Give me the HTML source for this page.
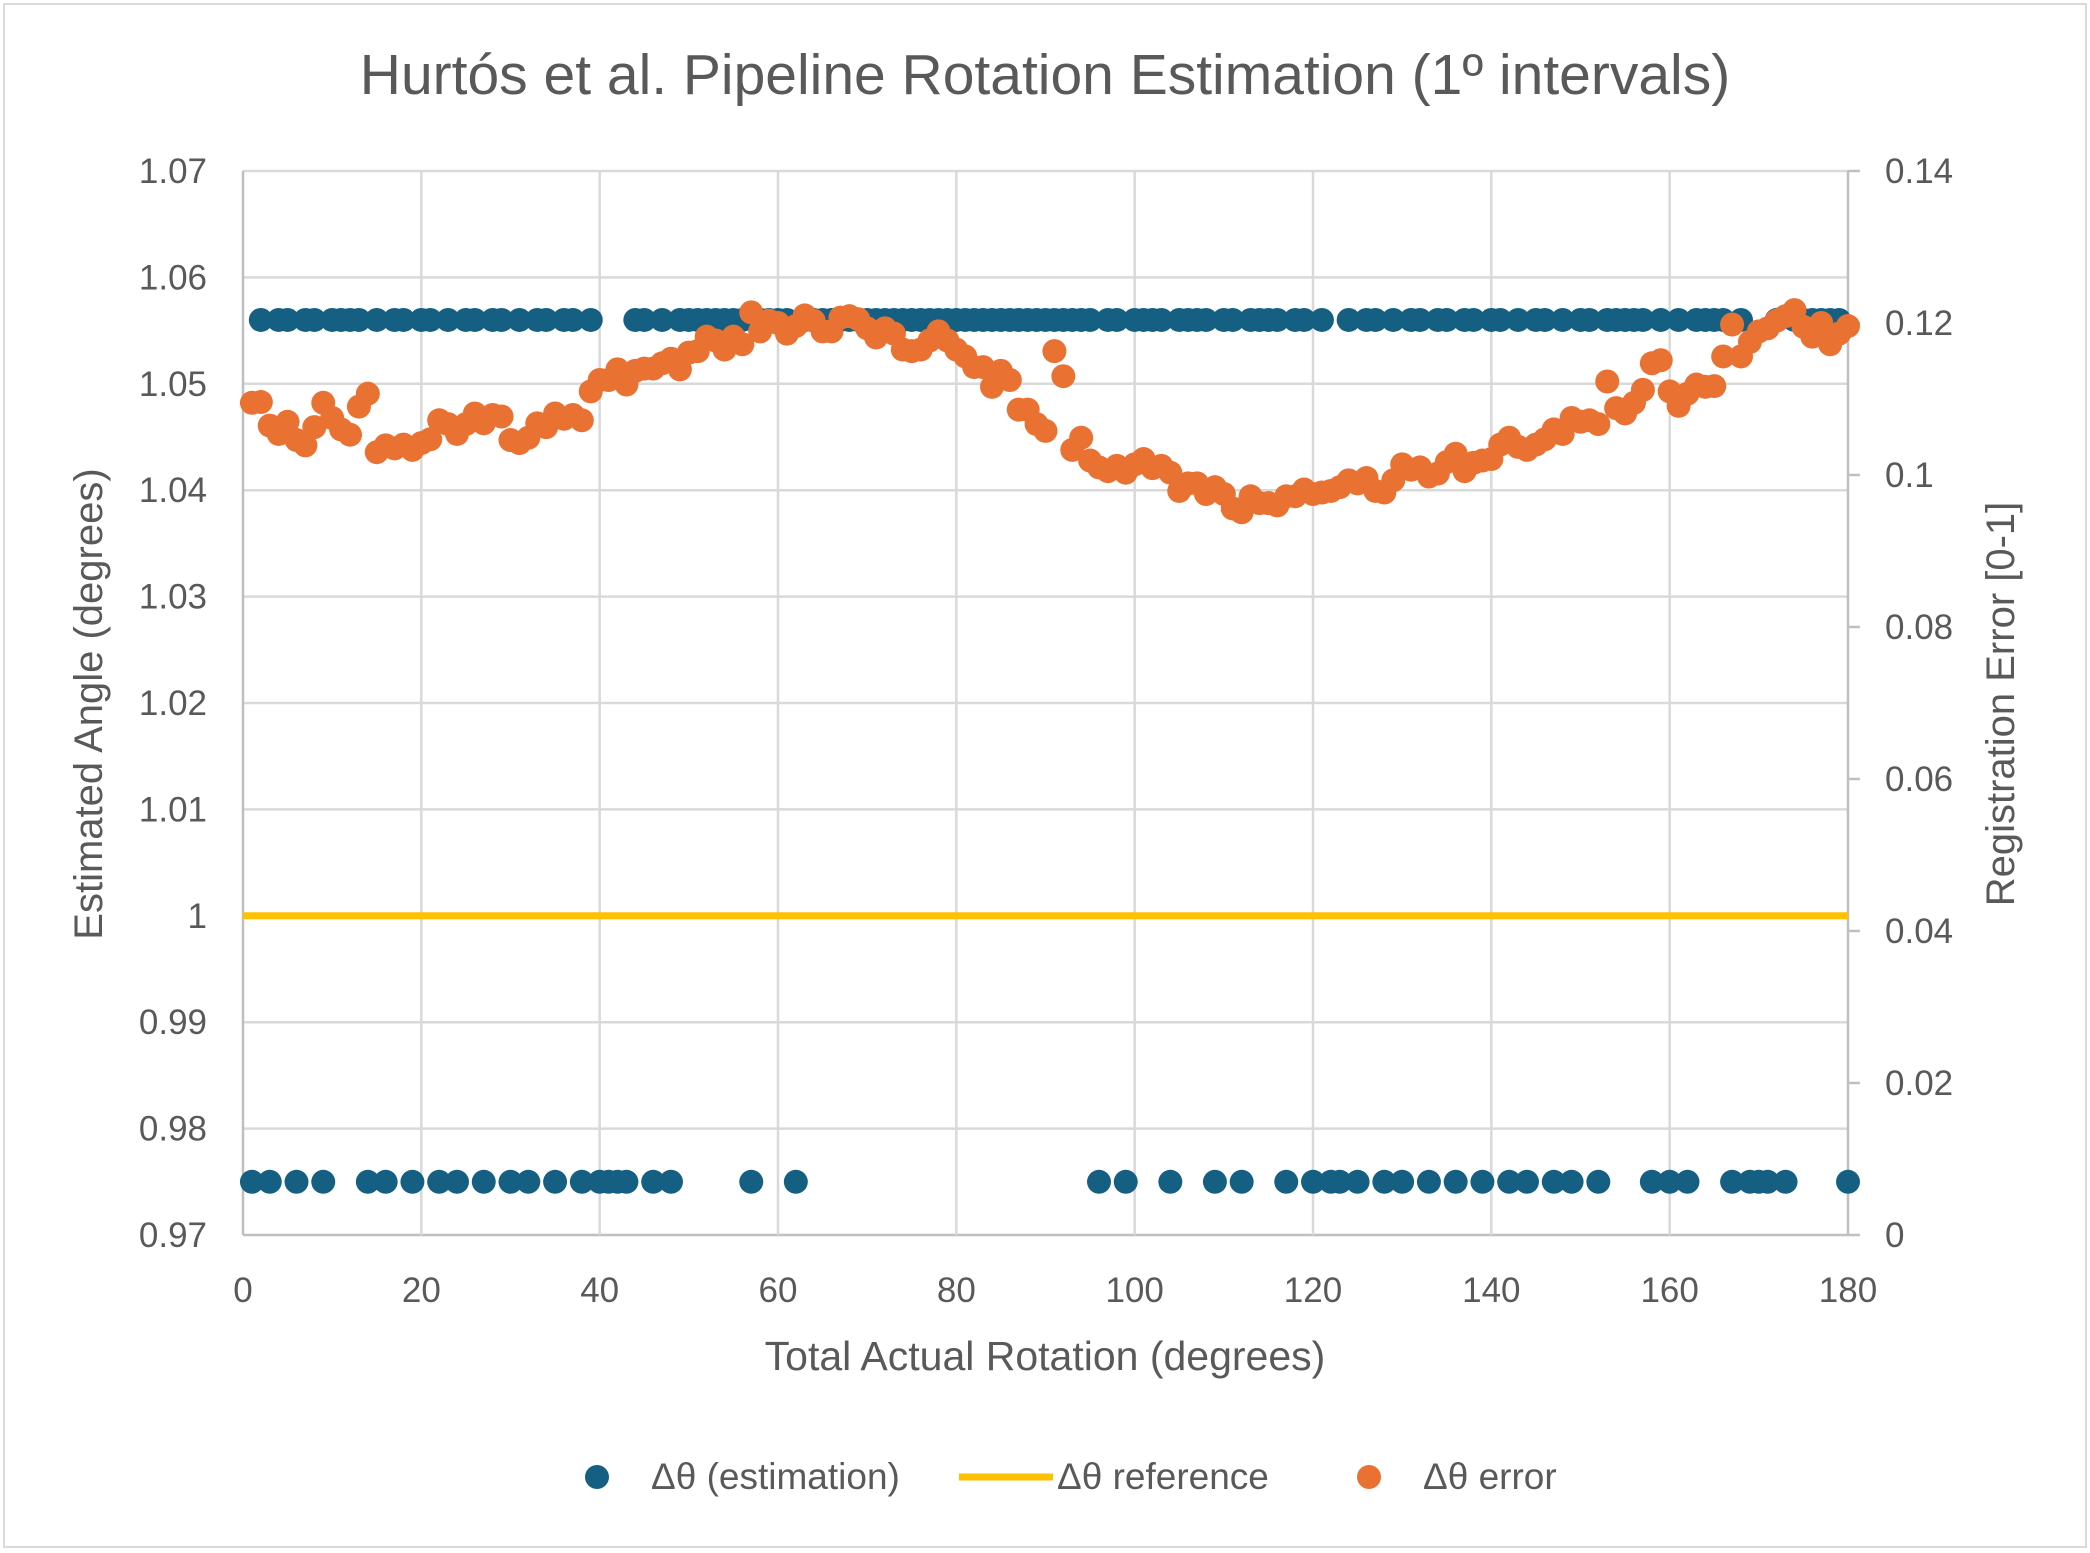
<!DOCTYPE html>
<html><head><meta charset="utf-8"><style>
html,body{margin:0;padding:0;background:#fff;}
svg{display:block;font-family:"Liberation Sans",sans-serif;}
</style></head><body>
<svg id="chart" width="2090" height="1553" viewBox="0 0 2090 1553" xmlns="http://www.w3.org/2000/svg">
<rect x="4" y="4" width="2082" height="1543" fill="#fff" stroke="#d9d9d9" stroke-width="2"/>
<text x="1045" y="94" text-anchor="middle" font-size="57" fill="#595959">Hurtós et al. Pipeline Rotation Estimation (1º intervals)</text>
<g id="grid"></g>
<g id="axes"></g>
<g id="marks"></g>
<text x="1045" y="1370" text-anchor="middle" font-size="41" fill="#595959">Total Actual Rotation (degrees)</text>
<text transform="translate(102,704) rotate(-90)" text-anchor="middle" font-size="40" fill="#595959">Estimated Angle (degrees)</text>
<text transform="translate(2014,704) rotate(-90)" text-anchor="middle" font-size="40" fill="#595959">Registration Error [0-1]</text>
<g>
<g><circle cx="597" cy="1477" r="12" fill="#156082"/><text x="651" y="1489" font-size="37" fill="#595959">Δθ (estimation)</text></g>
<g><line x1="959" y1="1477" x2="1053" y2="1477" stroke="#FFC000" stroke-width="7"/><text x="1057" y="1489" font-size="37" fill="#595959">Δθ reference</text></g>
<g><circle cx="1369" cy="1477" r="12" fill="#E97132"/><text x="1423" y="1489" font-size="37" fill="#595959">Δθ error</text></g>
</g>
</svg>
<script>
const xTicks=[0,20,40,60,80,100,120,140,160,180];
const yTicks=[0.97,0.98,0.99,1,1.01,1.02,1.03,1.04,1.05,1.06,1.07];
const yTickLabels=["0.97","0.98","0.99","1","1.01","1.02","1.03","1.04","1.05","1.06","1.07"];
const y2Ticks=[0,0.02,0.04,0.06,0.08,0.1,0.12,0.14];
const y2TickLabels=["0","0.02","0.04","0.06","0.08","0.1","0.12","0.14"];
const lowDegrees=[1,3,6,9,14,16,19,22,24,27,30,32,35,38,40,41,42,43,46,48,57,62,96,99,104,109,112,117,120,122,123,125,128,130,133,136,139,142,144,147,149,152,158,160,162,167,169,170,171,173,180];
const highValue=1.056;
const lowValue=0.975;
const referenceValue=1.0;
const errorValues=[0.1095,0.1096,0.1065,0.1054,0.107,0.1046,0.1039,0.1063,0.1095,0.1075,0.106,0.1053,0.109,0.1107,0.103,0.1039,0.1035,0.104,0.1033,0.1042,0.1047,0.1072,0.1067,0.1054,0.1067,0.1081,0.1068,0.1079,0.1077,0.1046,0.1042,0.1049,0.1068,0.1063,0.1081,0.1074,0.1079,0.1072,0.111,0.1125,0.1125,0.1139,0.1119,0.1137,0.114,0.114,0.1147,0.1153,0.1139,0.1161,0.1163,0.1182,0.1177,0.1165,0.1182,0.1172,0.1214,0.1189,0.1203,0.12,0.1186,0.1196,0.121,0.1203,0.1189,0.1189,0.1207,0.1209,0.1205,0.1193,0.1181,0.1193,0.1186,0.1165,0.1163,0.1165,0.1177,0.1189,0.1177,0.1165,0.1156,0.1142,0.1142,0.1116,0.1137,0.1125,0.1086,0.1086,0.1067,0.1058,0.1163,0.113,0.1033,0.1049,0.1019,0.101,0.1005,0.1012,0.1003,0.1014,0.1021,0.1009,0.1012,0.1003,0.0979,0.0989,0.0989,0.0975,0.0984,0.0975,0.0956,0.0951,0.0972,0.0963,0.0963,0.096,0.0972,0.0972,0.0981,0.0975,0.0977,0.0979,0.0984,0.0993,0.0989,0.0996,0.0979,0.0977,0.0993,0.1014,0.1007,0.101,0.0998,0.1002,0.1017,0.1028,0.1005,0.1016,0.1019,0.1021,0.104,0.1049,0.1037,0.1033,0.104,0.1047,0.106,0.1054,0.1075,0.107,0.1072,0.1067,0.1123,0.1088,0.1081,0.1095,0.1112,0.1147,0.1151,0.111,0.1091,0.1107,0.1119,0.1116,0.1117,0.1156,0.1198,0.1156,0.1175,0.1189,0.1193,0.1203,0.1209,0.1217,0.1195,0.1182,0.12,0.1172,0.1186,0.1196];
const NS="http://www.w3.org/2000/svg";
const L=243,R=1848,T=171,B=1235;
const xS=v=>L+(v-0)/(180-0)*(R-L);
const yS=v=>B-(v-0.97)/(1.07-0.97)*(B-T);
const y2S=v=>B-(v-0)/(0.14-0)*(B-T);
function mk(tag,attrs,parent){const e=document.createElementNS(NS,tag);for(const k in attrs)e.setAttribute(k,attrs[k]);parent.appendChild(e);return e;}
const grid=document.getElementById('grid'),axes=document.getElementById('axes'),marks=document.getElementById('marks');
yTicks.forEach((v,i)=>{
 const ln=mk('line',{x1:L,x2:R,y1:yS(v),y2:yS(v),stroke:i===0?'#bfbfbf':'#d9d9d9','stroke-width':2.5},grid);
 
 
 const t=mk('text',{x:207,y:yS(v)+12,'text-anchor':'end','font-size':35,fill:'#595959'},axes);
 t.textContent=yTickLabels[i];
 
 
});
xTicks.forEach((v,i)=>{
 const ln=mk('line',{x1:xS(v),x2:xS(v),y1:T,y2:B,stroke:(i===0||i===xTicks.length-1)?'#bfbfbf':'#d9d9d9','stroke-width':2.5},grid);
 
 
 const t=mk('text',{x:xS(v),y:1302,'text-anchor':'middle','font-size':35,fill:'#595959'},axes);
 t.textContent=String(v);
 
 
});
y2Ticks.forEach((v,i)=>{
 const tk=mk('line',{x1:R,x2:R+12,y1:y2S(v),y2:y2S(v),stroke:'#bfbfbf','stroke-width':2.5},axes);
 
 
 const t=mk('text',{x:1885,y:y2S(v)+12,'text-anchor':'start','font-size':35,fill:'#595959'},axes);
 t.textContent=y2TickLabels[i];
 
 
});
const ref=mk('line',{x1:L,x2:R,y1:yS(referenceValue),y2:yS(referenceValue),stroke:'#FFC000','stroke-width':7},marks);


for(let d=1;d<=180;d++){
 const v=lowDegrees.includes(d)?lowValue:highValue;
 const c=mk('circle',{cx:xS(d),cy:yS(v),r:12,fill:'#156082'},marks);
 
 
}
errorValues.forEach((v,i)=>{
 const c=mk('circle',{cx:xS(i+1),cy:y2S(v),r:12,fill:'#E97132'},marks);
 
 
});
</script>
</body></html>
